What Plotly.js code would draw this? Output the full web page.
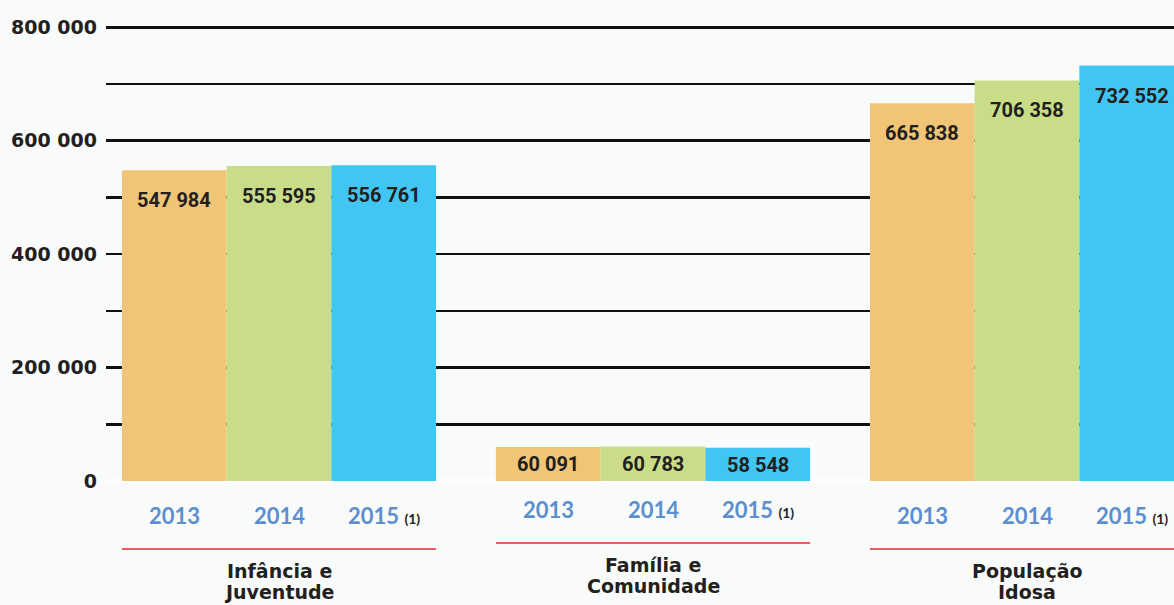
<!DOCTYPE html>
<html><head><meta charset="utf-8">
<script src="https://cdn.plot.ly/plotly-3.0.1.min.js"></script>
<style>html,body{margin:0;padding:0;background:#f9fafa;overflow:hidden}</style>
</head><body><div id="chart" style="width:1174px;height:605px"></div>
<script>
// ---- data ----
const groups = ['Infância e Juventude', 'Família e Comunidade', 'População Idosa'];
const groupLabels = ['Infância e<br>Juventude', 'Família e<br>Comunidade', 'População<br>Idosa'];
const years = ['2013', '2014', '2015'];
const yearNotes = ['', '', '(1)'];
const values2013 = [547984, 60091, 665838];
const values2014 = [555595, 60783, 706358];
const values2015 = [556761, 58548, 732552];
const yTickVals = [0, 200000, 400000, 600000, 800000];
const yTickText = ['0', '200 000', '400 000', '600 000', '800 000'];
const yMinorVals = [100000, 300000, 500000, 700000];

// ---- styling ----
const colors = ['#f0c577', '#c9dd88', '#41c6f3'];
const series = [values2013, values2014, values2015];
const fmt = v => String(v).replace(/\B(?=(\d{3})+(?!\d))/g, ' ');

const plotTop = 25, plotBottom = 481, plotH = plotBottom - plotTop;
const py = p => (plotBottom - p) / plotH;   // pixel row -> paper y
const barW = 0.28;                           // (1 - bargap) / 3
const offsets = [-barW, 0, barW];
const groupShift = [0, -6, 0];
const labelShift = [-30, -17, -30];

const traces = series.map((vals, k) => ({
  type: 'bar', name: years[k], x: groups, y: vals,
  marker: { color: colors[k], line: { width: 0 } },
  hoverinfo: 'x+y'
}));

const annotations = [];
const shapes = [];
groups.forEach((g, i) => {
  series.forEach((vals, k) => {
    annotations.push({
      xref: 'x', yref: 'y', x: i + offsets[k], y: vals[i],
      yanchor: 'middle', xanchor: 'center', yshift: labelShift[i],
      text: fmt(vals[i]), showarrow: false,
      font: { family: 'Roboto, sans-serif', size: 20, weight: 'bold', color: '#231f20' }
    });
    const note = yearNotes[k] ? ' <span style="font-size:14px;color:#231f20">' + yearNotes[k] + '</span>' : '';
    annotations.push({
      xref: 'x', yref: 'paper', x: i + offsets[k], y: py(515 + groupShift[i]),
      yanchor: 'middle', xanchor: 'center',
      text: years[k] + note, showarrow: false,
      font: { family: 'Lato, DejaVu Sans, sans-serif', size: 22, weight: 'bold', color: '#5b8fd0' }
    });
  });
  groupLabels[i].split('<br>').forEach((line, j) => {
    annotations.push({
      xref: 'x', yref: 'paper', x: i, y: py(571 + 21 * j + groupShift[i]),
      yanchor: 'middle', xanchor: 'center',
      text: line, showarrow: false,
      font: { family: 'DejaVu Sans, sans-serif', size: 19, weight: 'bold', color: '#231f20' }
    });
  });
  shapes.push({
    type: 'line', xref: 'x', yref: 'paper',
    x0: i - 0.42, x1: i + 0.42, y0: py(549 + groupShift[i]), y1: py(549 + groupShift[i]),
    line: { color: '#e8232a', width: 1.5 }
  });
});

const layout = {
  width: 1174, height: 605,
  margin: { l: 106, r: 0, t: plotTop, b: 605 - plotBottom, pad: 0 },
  paper_bgcolor: '#f9fafa', plot_bgcolor: '#f9fafa',
  barmode: 'group', bargap: 0.16, bargroupgap: 0,
  showlegend: false,
  xaxis: {
    type: 'category', range: [-0.4626, 2.393],
    showticklabels: false, showgrid: false, zeroline: false, showline: false, ticks: '', fixedrange: true
  },
  yaxis: {
    range: [0, 804000], tickmode: 'array', tickvals: yTickVals, ticktext: yTickText,
    showgrid: true, gridcolor: '#111111', gridwidth: 2.5,
    minor: { tickmode: 'array', tickvals: yMinorVals, showgrid: true, gridcolor: '#111111', gridwidth: 2.5, ticks: '' },
    zeroline: true, zerolinecolor: '#ffffff', zerolinewidth: 4,
    showline: false, ticks: '', ticklabelstandoff: 8,
    tickfont: { family: 'DejaVu Sans, sans-serif', size: 19, weight: 'bold', color: '#231f20' },
    fixedrange: true
  },
  annotations: annotations,
  shapes: shapes
};

Plotly.newPlot('chart', traces, layout, { displayModeBar: false, staticPlot: true });
</script>
</body></html>
